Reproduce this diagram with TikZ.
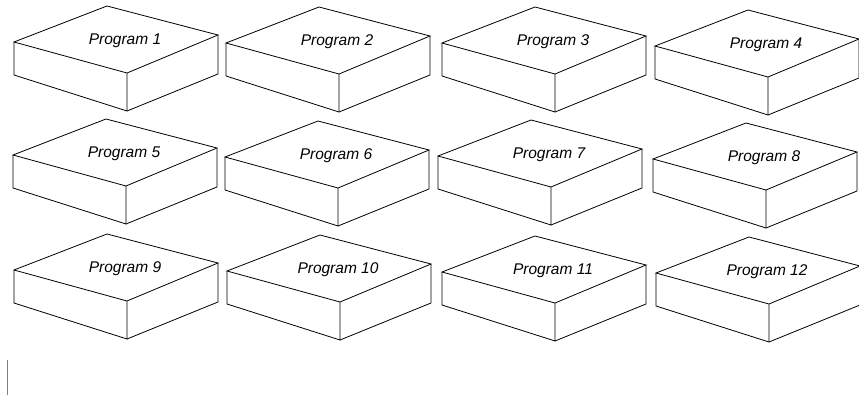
\documentclass[tikz,border=0pt]{standalone}
\usepackage{fontspec}
\setmainfont{Liberation Sans}
\tikzset{
  boxline/.style={draw=black,line width=0.8pt,line join=miter},
  proglabel/.style={font=\fontsize{15.5}{18}\selectfont\itshape,inner sep=0pt}
}
% one flat box: left corner of the lid at (#1,#2), label node #3, text #4
\newcommand{\progbox}[4]{%
  \begin{scope}[shift={(#1,#2)}]
    \draw[boxline,fill=white] (0,0)--(93,-36)--(204,-7)--(113,31)--cycle;
    \draw[boxline] (0,0)--(0,33)--(113,69)--(113,31);
    \draw[boxline] (113,69)--(204,32)--(204,-7);
    \node[proglabel] (#3) at (111,-1.5) {#4};
  \end{scope}}

\begin{document}
\begin{tikzpicture}[x=1pt,y=-1pt]
  \useasboundingbox (0,0) rectangle (859,396);
  \foreach \px/\py/\n in {14/42/1,226/43/2,442/43/3,655/46/4,
                          13/155/5,225/157/6,438/156/7,653/159/8,
                          14/270/9,227/271/10,442/272/11,656/273/12}
    \progbox{\px}{\py}{p\n}{Program \n}
  \draw[gray,line width=0.9pt] (7.5,360)--(7.5,395);
\end{tikzpicture}
\end{document}
